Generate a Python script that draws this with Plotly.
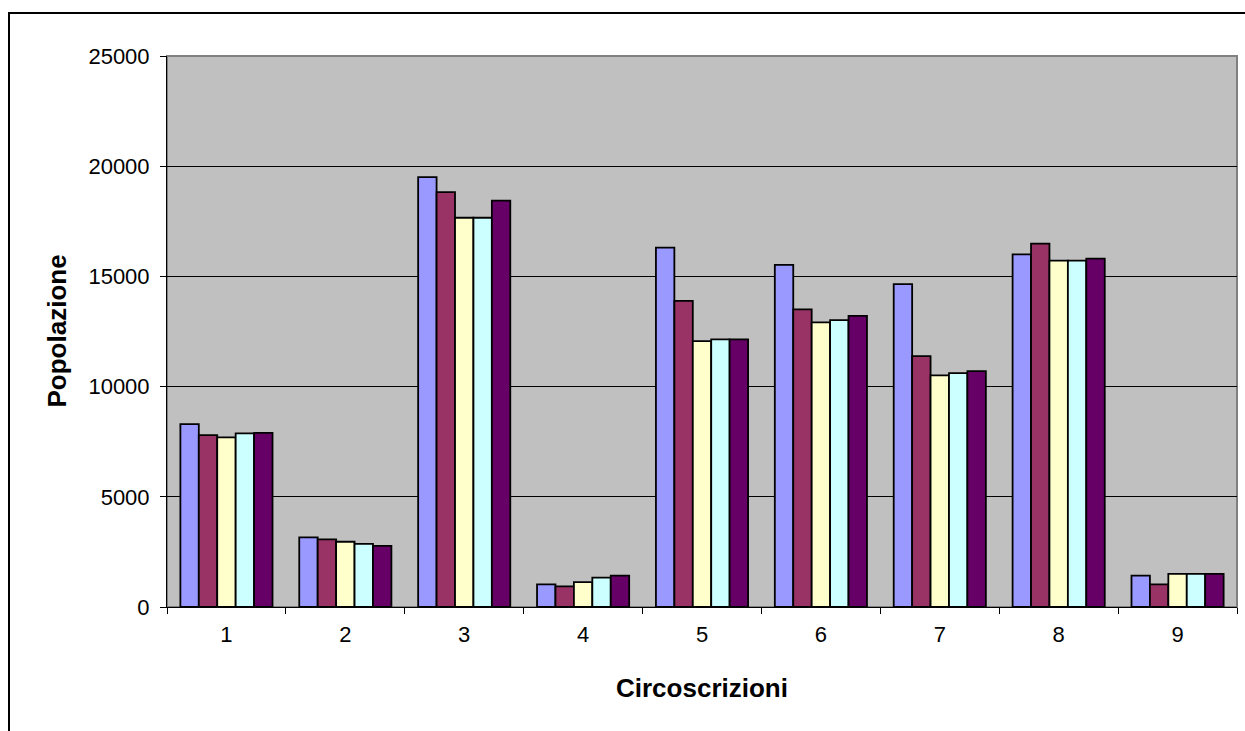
import plotly.graph_objects as go

# Circoscrizioni (districts) and population per series
circoscrizioni = ["1", "2", "3", "4", "5", "6", "7", "8", "9"]

serie_1 = [8300, 3160, 19500, 1030, 16310, 15520, 14650, 16000, 1420]
serie_2 = [7800, 3070, 18820, 940, 13890, 13500, 11380, 16490, 1030]
serie_3 = [7700, 2960, 17660, 1130, 12060, 12910, 10510, 15720, 1500]
serie_4 = [7880, 2860, 17660, 1330, 12140, 13020, 10610, 15720, 1500]
serie_5 = [7900, 2770, 18440, 1420, 12140, 13210, 10700, 15810, 1500]

series = [
    ("Serie 1", serie_1, "#9999FF"),
    ("Serie 2", serie_2, "#993366"),
    ("Serie 3", serie_3, "#FFFFCC"),
    ("Serie 4", serie_4, "#CCFFFF"),
    ("Serie 5", serie_5, "#660066"),
]

y_ticks = [0, 5000, 10000, 15000, 20000, 25000]

fig = go.Figure()
for name, values, color in series:
    fig.add_trace(go.Bar(
        x=circoscrizioni, y=values, name=name,
        marker=dict(color=color, line=dict(color="black", width=1.8)),
    ))

# plot-area geometry in pixels (used to place decorations in paper units)
L, R, T, B = 167, 1237, 56, 607
W, H = R - L, B - T


def px(x):
    return (x - L) / W


def py(y):
    return (B - y) / H


tick_font = dict(family="Arial, Liberation Sans, sans-serif", size=22, color="black")
title_font = dict(family="Arial, Liberation Sans, sans-serif", size=26, color="black")

fig.update_layout(
    width=1245, height=731,
    margin=dict(l=L, r=1245 - R, t=T, b=731 - B),
    paper_bgcolor="white",
    plot_bgcolor="#C0C0C0",
    barmode="group",
    bargap=0.225,
    bargroupgap=0,
    showlegend=False,
    xaxis=dict(
        type="category",
        tickfont=tick_font,
        ticks="outside", tickson="boundaries", ticklen=6, tickcolor="black",
        showline=True, linecolor="black", linewidth=1,
        showgrid=False,
        ticklabelstandoff=8,
    ),
    yaxis=dict(
        range=[0, 25000],
        tickvals=y_ticks, ticktext=[str(v) for v in y_ticks],
        tickfont=tick_font,
        ticks="outside", ticklen=6, tickcolor="black",
        showline=True, linecolor="black", linewidth=1,
        showgrid=True, gridcolor="black", gridwidth=1,
        zeroline=False,
        ticklabelstandoff=6,
    ),
    shapes=[
        # plot-area frame (top and right edges in grey)
        dict(type="rect", xref="paper", yref="paper", x0=0, x1=1, y0=0, y1=1,
             line=dict(color="#808080", width=2), layer="below"),
        # outer chart border
        dict(type="rect", xref="paper", yref="paper",
             x0=px(9), x1=px(1262), y0=py(760), y1=py(13),
             line=dict(color="black", width=2)),
    ],
    annotations=[
        dict(text="<b>Popolazione</b>", xref="paper", yref="paper",
             x=px(56), y=0.5, textangle=-90, showarrow=False,
             xanchor="center", yanchor="middle", font=title_font),
        dict(text="<b>Circoscrizioni</b>", xref="paper", yref="paper",
             x=0.5, y=py(688), showarrow=False,
             xanchor="center", yanchor="middle", font=title_font),
    ],
)

fig.write_html("out.html")
